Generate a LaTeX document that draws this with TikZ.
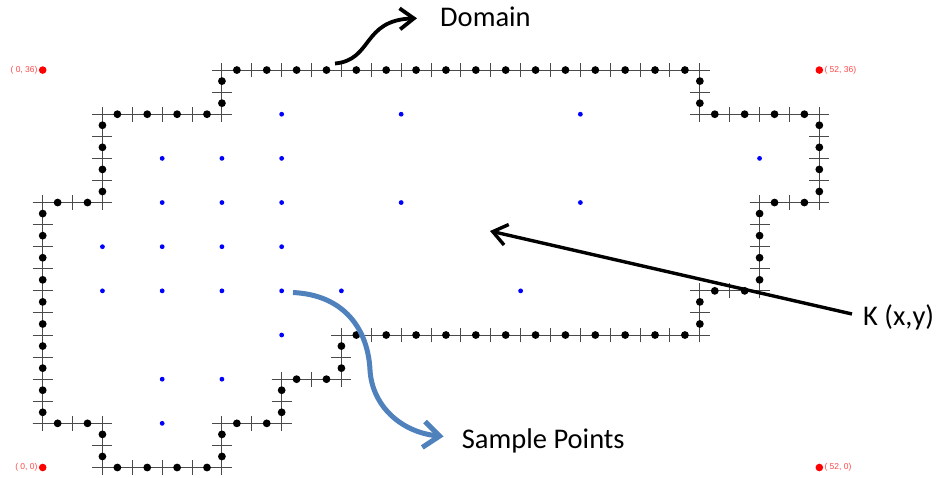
\documentclass[tikz,border=0pt]{standalone}
\usepackage{fontspec}
\setmainfont{Carlito}
\newfontfamily\lblfont{Liberation Sans}
\usetikzlibrary{arrows.meta}
\definecolor{bndgray}{HTML}{4A4A4A}
\definecolor{ptblue}{HTML}{0000FF}
\definecolor{arrblue}{HTML}{4F81BD}
\definecolor{lblred}{HTML}{FF4848}
\tikzset{
  bnd/.style={draw=bndgray, line width=1pt},
  bdot/.style={circle, fill=black, inner sep=0pt, minimum size=7.8pt},
  sdot/.style={circle, fill=ptblue, inner sep=0pt, minimum size=4.8pt},
  rdot/.style={circle, fill=red, inner sep=0pt, minimum size=7.6pt},
  rlbl/.style={text=lblred, font=\lblfont\fontsize{8.5}{8.5}\selectfont, inner sep=0pt},
  biglbl/.style={font=\fontsize{28.5}{30}\selectfont, inner sep=0pt, anchor=base west},
  blackarr/.style={draw=black, line width=3.8pt, -{Straight Barb[length=14pt,width=21pt]}},
  bluearr/.style={draw=arrblue, line width=5pt, -{Straight Barb[length=16pt,width=26pt]}}
}
\newcommand\HEdge[3]{%
  \pgfmathtruncatemacro\hA{#2+2}%
  \pgfmathtruncatemacro\hB{#2+1}%
  \pgfmathtruncatemacro\hC{#2+3}%
  \pgfmathtruncatemacro\hD{#3-1}%
  \foreach \xx in {#2,\hA,...,#3}{\draw[bnd] (\xx-0.67,#1) -- (\xx+0.67,#1) (\xx,#1-0.67) -- (\xx,#1+0.67);}%
  \foreach \xx in {\hB,\hC,...,\hD}{\node[bdot] at (\xx,#1) {};}%
}
\newcommand\VEdge[3]{%
  \pgfmathtruncatemacro\vA{#2+2}%
  \pgfmathtruncatemacro\vB{#2+1}%
  \pgfmathtruncatemacro\vC{#2+3}%
  \pgfmathtruncatemacro\vD{#3-1}%
  \foreach \yy in {#2,\vA,...,#3}{\draw[bnd] (#1-0.67,\yy) -- (#1+0.67,\yy) (#1,\yy-0.67) -- (#1,\yy+0.67);}%
  \foreach \yy in {\vB,\vC,...,\vD}{\node[bdot] at (#1,\yy) {};}%
}
\begin{document}
\begin{tikzpicture}[x=1pt, y=-1pt]
\useasboundingbox (0,0) rectangle (939,478);
\fill[white] (0,0) rectangle (939,478);
\begin{scope}[shift={(42.7,467.5)}, x=14.935pt, y=11.04pt]
  % boundary of the domain
  \draw[bnd] (12,36) -- (44,36) -- (44,32) -- (52,32) -- (52,24) -- (48,24) -- (48,16)
    -- (44,16) -- (44,12) -- (20,12) -- (20,8) -- (16,8) -- (16,4) -- (12,4) -- (12,0)
    -- (4,0) -- (4,4) -- (0,4) -- (0,24) -- (4,24) -- (4,32) -- (12,32) -- cycle;
  \HEdge{36}{12}{44}
  \HEdge{32}{44}{52}
  \HEdge{24}{48}{52}
  \HEdge{16}{44}{48}
  \HEdge{12}{20}{44}
  \HEdge{8}{16}{20}
  \HEdge{4}{12}{16}
  \HEdge{0}{4}{12}
  \HEdge{4}{0}{4}
  \HEdge{24}{0}{4}
  \HEdge{32}{4}{12}
  \VEdge{44}{32}{36}
  \VEdge{52}{24}{32}
  \VEdge{48}{16}{24}
  \VEdge{44}{12}{16}
  \VEdge{20}{8}{12}
  \VEdge{16}{4}{8}
  \VEdge{12}{0}{4}
  \VEdge{4}{0}{4}
  \VEdge{0}{4}{24}
  \VEdge{4}{24}{32}
  \VEdge{12}{32}{36}
  % sample points
  \foreach \p in {(16,32),(24,32),(36,32),
                  (8,28),(12,28),(16,28),(48,28),
                  (8,24),(12,24),(16,24),(24,24),(36,24),
                  (4,20),(8,20),(12,20),(16,20),
                  (4,16),(8,16),(12,16),(16,16),(20,16),(32,16),
                  (16,12),(8,8),(12,8),(8,4)}
    {\node[sdot] at \p {};}
  % corner reference points
  \node[rdot] (c036) at (0,36) {};
  \node[rdot] (c5236) at (52,36) {};
  \node[rdot] (c00) at (0,0) {};
  \node[rdot] (c520) at (52,0) {};
\end{scope}
\node[rlbl, anchor=east] (l036) at ([xshift=-1pt]c036.west) {( 0, 36)};
\node[rlbl, anchor=west] (l5236) at ([xshift=1pt]c5236.east) {( 52, 36)};
\node[rlbl, anchor=east] (l00) at ([xshift=-1pt]c00.west) {( 0, 0)};
\node[rlbl, anchor=west] (l520) at ([xshift=1pt]c520.east) {( 52, 0)};
% labels
\node[biglbl] (dom) at (440,26.7) {Domain};
\node[biglbl] (samp) at (461.7,448.3) {Sample Points};
\node[biglbl] (kxy) at (863,325) {K (x,y)};
% arrows
\coordinate (domstart) at (335,63.5);
\coordinate (domtip) at (417,18.3);
\draw[blackarr] (domstart) .. controls (373,60) and (362,20) .. (domtip);
\coordinate (kstart) at (852,314);
\coordinate (ktip) at (490,231);
\draw[blackarr, line width=3.4pt] (kstart) -- (ktip);
\coordinate (sstart) at (293,292.5);
\coordinate (smid) at (370,370);
\coordinate (stip) at (443.5,436.5);
\draw[bluearr] (sstart) .. controls (345,295) and (368,330) .. (smid)
  .. controls (372,405) and (400,432) .. (stip);
\end{tikzpicture}
\end{document}
